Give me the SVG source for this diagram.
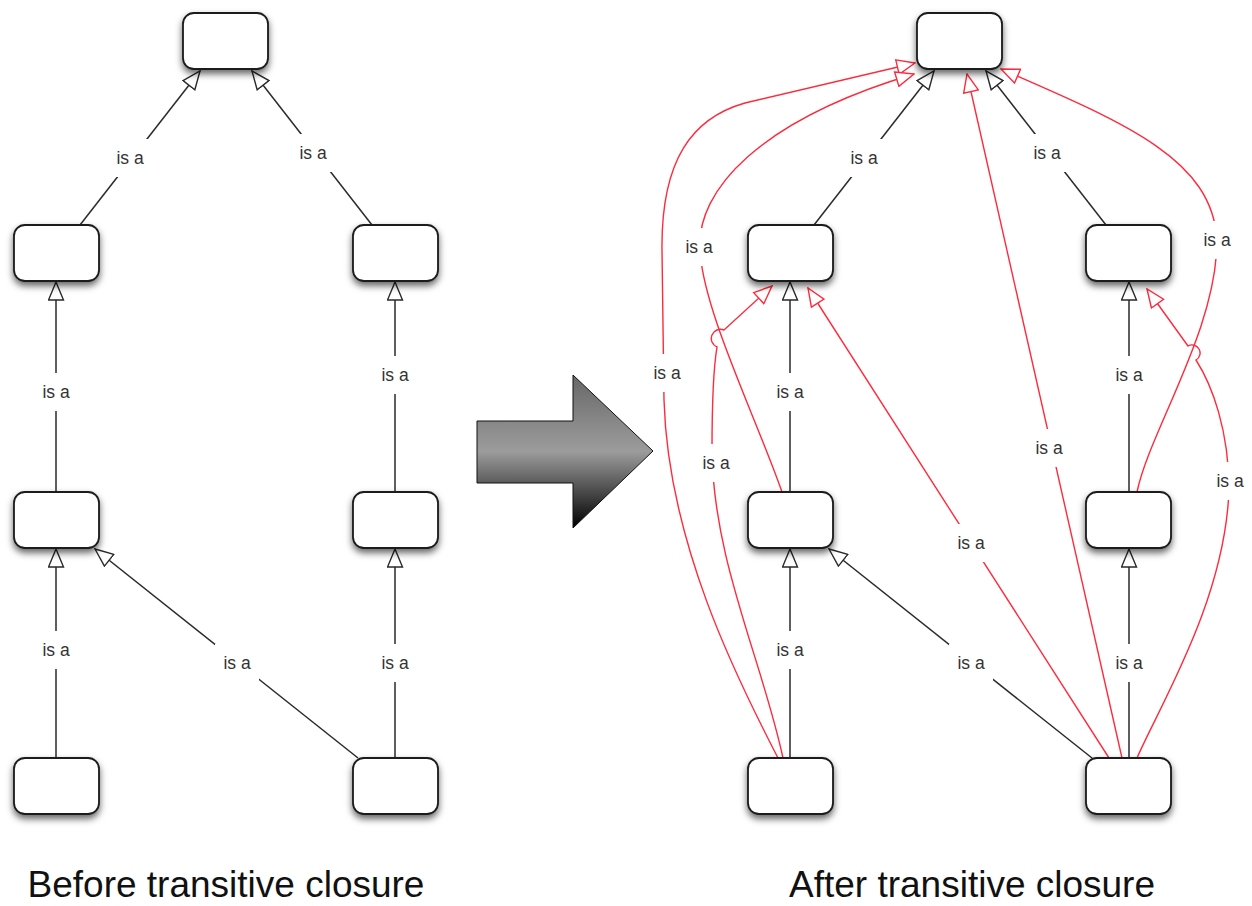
<svg xmlns="http://www.w3.org/2000/svg" width="1252" height="906" viewBox="0 0 1252 906">
<style>
.node{fill:#fff;stroke:#1a1a1a;stroke-width:1.8;filter:url(#sh)}
.bk{fill:none;stroke:#2a2a2a;stroke-width:1.5;marker-end:url(#hb)}
.rd{fill:none;stroke:#ff2a3c;stroke-width:1.4;marker-end:url(#hr)}
.lb{fill:#fff;stroke:none}
.lt{font-family:"Liberation Sans",Arial,sans-serif;font-size:17.5px;fill:#333;text-anchor:middle}
.cap{font-family:"Liberation Sans",Arial,sans-serif;font-size:37px;fill:#111;text-anchor:middle}
</style>
<defs>
<filter id="sh" x="-30%" y="-30%" width="160%" height="170%">
<feDropShadow dx="0" dy="4" stdDeviation="3.5" flood-color="#000" flood-opacity="0.6"/>
</filter>
<marker id="hb" markerUnits="userSpaceOnUse" markerWidth="20" markerHeight="17" viewBox="0 0 20 17" refX="19" refY="8.5" orient="auto">
<path d="M1,1 L19,8.5 L1,16 Z" fill="#fff" stroke="#2a2a2a" stroke-width="1.4"/>
</marker>
<marker id="hr" markerUnits="userSpaceOnUse" markerWidth="20" markerHeight="17" viewBox="0 0 20 17" refX="19" refY="8.5" orient="auto">
<path d="M1,1 L19,8.5 L1,16 Z" fill="#fff" stroke="#ff2a3c" stroke-width="1.4"/>
</marker>
<linearGradient id="ag" x1="0" y1="375" x2="0" y2="528" gradientUnits="userSpaceOnUse">
<stop offset="0" stop-color="#676767"/>
<stop offset="0.5" stop-color="#9c9c9c"/>
<stop offset="1" stop-color="#000"/>
</linearGradient>
</defs>
<rect width="1252" height="906" fill="#fff"/>

<g id="connectors">
<!-- left diagram -->
<path class="bk" d="M80,225 L200,71"/>
<path class="bk" d="M372,225 L252,71"/>
<path class="bk" d="M56,492 L56,282"/>
<path class="bk" d="M395,492 L395,282"/>
<path class="bk" d="M56,758 L56,549"/>
<path class="bk" d="M395,758 L395,549"/>
<path class="bk" d="M358,758 L95,549"/>
<!-- right diagram black -->
<path class="bk" d="M814,225 L934,71"/>
<path class="bk" d="M1106,225 L986,71"/>
<path class="bk" d="M790,492 L790,282"/>
<path class="bk" d="M1129,492 L1129,282"/>
<path class="bk" d="M790,758 L790,549"/>
<path class="bk" d="M1129,758 L1129,549"/>
<path class="bk" d="M1092,758 L829,549"/>
<!-- right diagram red (transitive) -->
<path class="rd" d="M778,758 C735,675 668,540 664,400 L662,250 C661,160 692,118 745,103 L915,63"/>
<path class="rd" d="M782,492 C755,415 703,310 700,250 C696,190 760,120 914,74"/>
<path class="rd" d="M783,758 C762,660 713,560 712,450 C712,400 714,365 717,347 A5,5 0 0 1 724,330 L772,286"/>
<path class="rd" d="M1109,758 L808,288"/>
<path class="rd" d="M1122,758 L967,74"/>
<path class="rd" d="M1137,492 C1150,430 1217,330 1217,240 C1212,160 1130,125 1001,69"/>
<path class="rd" d="M1137,758 C1160,705 1225,600 1229,490 C1229,430 1212,385 1196,360 A5,5 0 0 0 1188,346 L1147,289"/>
</g>

<g id="labels">
<g id="lbl-l1"><rect class="lb" x="108" y="139" width="44" height="38"/><text class="lt" x="130" y="164">is a</text></g>
<g id="lbl-l2"><rect class="lb" x="291" y="134" width="44" height="38"/><text class="lt" x="313" y="159">is a</text></g>
<g id="lbl-l3"><rect class="lb" x="34" y="373" width="44" height="38"/><text class="lt" x="56" y="398">is a</text></g>
<g id="lbl-l4"><rect class="lb" x="373" y="356" width="44" height="38"/><text class="lt" x="395" y="381">is a</text></g>
<g id="lbl-l5"><rect class="lb" x="34" y="631" width="44" height="38"/><text class="lt" x="56" y="656">is a</text></g>
<g id="lbl-l6"><rect class="lb" x="373" y="644" width="44" height="38"/><text class="lt" x="395" y="669">is a</text></g>
<g id="lbl-l7"><rect class="lb" x="215" y="644" width="44" height="38"/><text class="lt" x="237" y="669">is a</text></g>

<g id="lbl-r1"><rect class="lb" x="842" y="139" width="44" height="38"/><text class="lt" x="864" y="164">is a</text></g>
<g id="lbl-r2"><rect class="lb" x="1025" y="134" width="44" height="38"/><text class="lt" x="1047" y="159">is a</text></g>
<g id="lbl-r3"><rect class="lb" x="768" y="373" width="44" height="38"/><text class="lt" x="790" y="398">is a</text></g>
<g id="lbl-r4"><rect class="lb" x="1107" y="356" width="44" height="38"/><text class="lt" x="1129" y="381">is a</text></g>
<g id="lbl-r5"><rect class="lb" x="768" y="631" width="44" height="38"/><text class="lt" x="790" y="656">is a</text></g>
<g id="lbl-r6"><rect class="lb" x="1107" y="644" width="44" height="38"/><text class="lt" x="1129" y="669">is a</text></g>
<g id="lbl-r7"><rect class="lb" x="949" y="644" width="44" height="38"/><text class="lt" x="971" y="669">is a</text></g>

<g id="lbl-red1"><rect class="lb" x="645" y="354" width="44" height="38"/><text class="lt" x="667" y="379">is a</text></g>
<g id="lbl-red2"><rect class="lb" x="677" y="228" width="44" height="38"/><text class="lt" x="699" y="253">is a</text></g>
<g id="lbl-red3"><rect class="lb" x="694" y="444" width="44" height="38"/><text class="lt" x="716" y="469">is a</text></g>
<g id="lbl-red4"><rect class="lb" x="949" y="524" width="44" height="38"/><text class="lt" x="971" y="549">is a</text></g>
<g id="lbl-red5"><rect class="lb" x="1027" y="429" width="44" height="38"/><text class="lt" x="1049" y="454">is a</text></g>
<g id="lbl-red6"><rect class="lb" x="1195" y="221" width="44" height="38"/><text class="lt" x="1217" y="246">is a</text></g>
<g id="lbl-red7"><rect class="lb" x="1208" y="462" width="44" height="38"/><text class="lt" x="1230" y="487">is a</text></g>
</g>

<g id="nodes-before">
<g id="b-top"><rect class="node" x="183" y="13" width="85" height="56" rx="11"/></g>
<g id="b-ml"><rect class="node" x="14" y="225" width="85" height="56" rx="11"/></g>
<g id="b-mr"><rect class="node" x="353" y="225" width="85" height="56" rx="11"/></g>
<g id="b-ll"><rect class="node" x="14" y="492" width="85" height="56" rx="11"/></g>
<g id="b-lr"><rect class="node" x="353" y="492" width="85" height="56" rx="11"/></g>
<g id="b-bl"><rect class="node" x="14" y="758" width="85" height="56" rx="11"/></g>
<g id="b-br"><rect class="node" x="353" y="758" width="85" height="56" rx="11"/></g>
</g>
<g id="nodes-after">
<g id="a-top"><rect class="node" x="917" y="13" width="85" height="56" rx="11"/></g>
<g id="a-ml"><rect class="node" x="748" y="225" width="85" height="56" rx="11"/></g>
<g id="a-mr"><rect class="node" x="1086" y="225" width="85" height="56" rx="11"/></g>
<g id="a-ll"><rect class="node" x="748" y="492" width="85" height="56" rx="11"/></g>
<g id="a-lr"><rect class="node" x="1086" y="492" width="85" height="56" rx="11"/></g>
<g id="a-bl"><rect class="node" x="748" y="758" width="85" height="56" rx="11"/></g>
<g id="a-br"><rect class="node" x="1086" y="758" width="85" height="56" rx="11"/></g>
</g>

<g id="big-arrow">
<path d="M477,421 L573,421 L573,375 L653,451 L573,528 L573,483 L477,483 Z" fill="url(#ag)" stroke="#111" stroke-width="1"/>
</g>

<g id="captions">
<text class="cap" x="226" y="897">Before transitive closure</text>
<text class="cap" x="972" y="897">After transitive closure</text>
</g>
</svg>
